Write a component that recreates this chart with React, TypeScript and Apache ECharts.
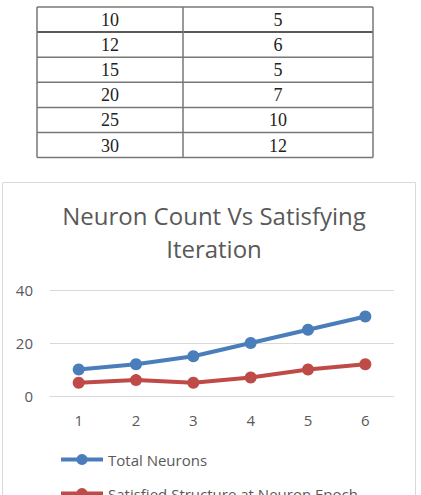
import React, { useEffect, useRef } from "react";
import * as echarts from "echarts";

const categories = ["1", "2", "3", "4", "5", "6"];
const totalNeurons = [10, 12, 15, 20, 25, 30];
const satisfiedEpoch = [5, 6, 5, 7, 10, 12];
const seriesNames = ["Total Neurons", "Satisfied Structure at Neuron Epoch"];
const titleText = "Neuron Count Vs Satisfying\nIteration";

export default function App() {
  const ref = useRef<HTMLDivElement>(null);
  useEffect(() => {
    if (!ref.current) return;
    const chart = echarts.init(ref.current, null, { renderer: "svg" });

    // table layout
    const tLeft = 37, tRight = 373, tTop = 7, rowH = 25.1, colX = 183;
    const nRows = totalNeurons.length;
    const tBottom = tTop + rowH * nRows;
    const g: any[] = [];
    for (let i = 0; i <= nRows; i++) {
      const y = tTop + rowH * i;
      g.push({
        type: "line",
        shape: { x1: tLeft, y1: y, x2: tRight, y2: y },
        style: { stroke: i === 1 ? "#222" : "#777", lineWidth: 1.5 },
      });
    }
    [tLeft, colX, tRight].forEach((x) =>
      g.push({
        type: "line",
        shape: { x1: x, y1: tTop, x2: x, y2: tBottom },
        style: { stroke: "#777", lineWidth: 1.5 },
      })
    );
    const tableFont = '18px "Liberation Serif", "Times New Roman", serif';
    for (let i = 0; i < nRows; i++) {
      const cy = tTop + rowH * i + rowH / 2 + 0.5;
      g.push({
        type: "text",
        x: (tLeft + colX) / 2,
        y: cy,
        style: {
          text: String(totalNeurons[i]),
          align: "center",
          verticalAlign: "middle",
          font: tableFont,
          fill: "#222",
        },
      });
      g.push({
        type: "text",
        x: (colX + tRight) / 2,
        y: cy,
        style: {
          text: String(satisfiedEpoch[i]),
          align: "center",
          verticalAlign: "middle",
          font: tableFont,
          fill: "#222",
        },
      });
    }
    // chart frame
    g.push({
      type: "rect",
      z: -10,
      shape: { x: 2.5, y: 182.5, width: 413, height: 340 },
      style: { fill: "#fff", stroke: "#d9d9d9", lineWidth: 1 },
    });

    const font = '"Open Sans", sans-serif';
    const legendCommon = {
      orient: "vertical",
      left: 54,
      itemWidth: 42,
      itemHeight: 14,
      itemGap: 4,
      lineStyle: { width: 4 },
      textStyle: { fontFamily: font, fontSize: 15, color: "#595959" },
    };
    chart.setOption({
      animation: false,
      backgroundColor: "#fff",
      graphic: g,
      title: {
        text: titleText,
        left: 209,
        textAlign: "center",
        top: 194,
        textStyle: {
          fontFamily: font,
          fontSize: 24,
          fontWeight: "normal",
          color: "#595959",
          lineHeight: 33,
        },
      },
      legend: [
        { ...legendCommon, top: 447, data: [seriesNames[0]] },
        { ...legendCommon, top: 481, data: [seriesNames[1]] },
      ],
      grid: { left: 50, right: 27, top: 290, bottom: 99 },
      xAxis: {
        type: "category",
        data: categories,
        boundaryGap: true,
        axisLine: { lineStyle: { color: "#d9d9d9" } },
        axisTick: { show: false },
        axisLabel: { fontFamily: font, fontSize: 15, color: "#595959", margin: 16 },
      },
      yAxis: {
        type: "value",
        min: 0,
        max: 40,
        interval: 20,
        axisLine: { show: false },
        axisTick: { show: false },
        splitLine: { lineStyle: { color: "#d9d9d9" } },
        axisLabel: { fontFamily: font, fontSize: 15, color: "#595959", margin: 17 },
      },
      series: [
        {
          name: seriesNames[0],
          type: "line",
          data: totalNeurons,
          symbol: "circle",
          symbolSize: 12,
          itemStyle: { color: "#4a7ebb" },
          lineStyle: { width: 4, color: "#4a7ebb" },
        },
        {
          name: seriesNames[1],
          type: "line",
          data: satisfiedEpoch,
          symbol: "circle",
          symbolSize: 12,
          itemStyle: { color: "#be4b48" },
          lineStyle: { width: 4, color: "#be4b48" },
        },
      ],
    });
    return () => chart.dispose();
  }, []);
  return (
    <div
      ref={ref}
      style={{ position: "fixed", left: 0, top: 0, width: 421, height: 495, background: "#fff" }}
    />
  );
}
